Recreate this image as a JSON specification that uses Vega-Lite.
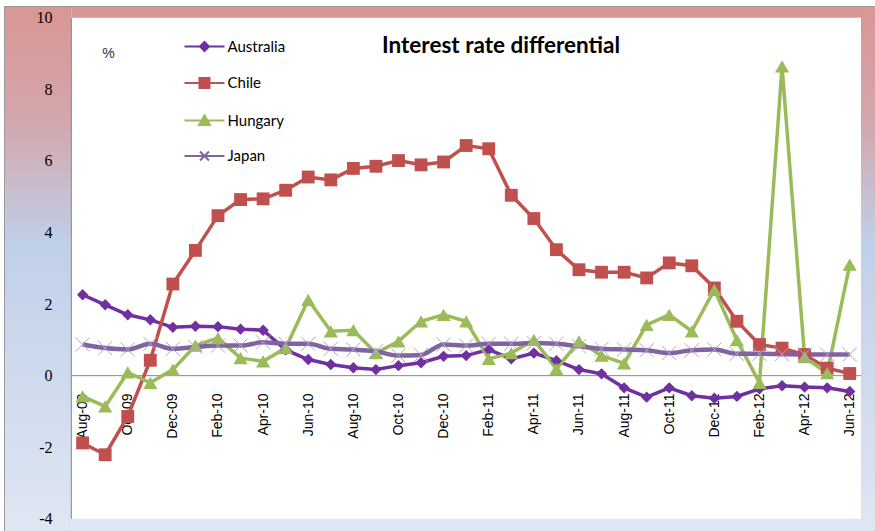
{
  "$schema": "https://vega.github.io/schema/vega-lite/v6.json",
  "width": 875,
  "height": 531,
  "autosize": {"type": "fit", "contains": "padding"},
  "padding": {"left": 5, "top": 7, "right": 0, "bottom": 0},
  "background": "#ffffff",
  "config": {
    "view": {"fill": "#ffffff", "stroke": "#9a9a9a", "strokeWidth": 2}
  },
  "title": {
    "text": "Interest rate differential",
    "anchor": "start",
    "frame": "group",
    "dx": 377,
    "offset": -68,
    "baseline": "alphabetic",
    "font": "Lato",
    "fontSize": 22.5,
    "fontWeight": "bold",
    "color": "#000000"
  },
  "data": {
    "values": [
      {"m": 0, "month": "Aug-09", "series": "Australia", "v": 2.26},
      {"m": 1, "month": "Sep-09", "series": "Australia", "v": 1.98},
      {"m": 2, "month": "Oct-09", "series": "Australia", "v": 1.70},
      {"m": 3, "month": "Nov-09", "series": "Australia", "v": 1.56},
      {"m": 4, "month": "Dec-09", "series": "Australia", "v": 1.35},
      {"m": 5, "month": "Jan-10", "series": "Australia", "v": 1.38},
      {"m": 6, "month": "Feb-10", "series": "Australia", "v": 1.37},
      {"m": 7, "month": "Mar-10", "series": "Australia", "v": 1.30},
      {"m": 8, "month": "Apr-10", "series": "Australia", "v": 1.27},
      {"m": 9, "month": "May-10", "series": "Australia", "v": 0.72},
      {"m": 10, "month": "Jun-10", "series": "Australia", "v": 0.45},
      {"m": 11, "month": "Jul-10", "series": "Australia", "v": 0.31},
      {"m": 12, "month": "Aug-10", "series": "Australia", "v": 0.22},
      {"m": 13, "month": "Sep-10", "series": "Australia", "v": 0.17},
      {"m": 14, "month": "Oct-10", "series": "Australia", "v": 0.28},
      {"m": 15, "month": "Nov-10", "series": "Australia", "v": 0.36},
      {"m": 16, "month": "Dec-10", "series": "Australia", "v": 0.54},
      {"m": 17, "month": "Jan-11", "series": "Australia", "v": 0.56},
      {"m": 18, "month": "Feb-11", "series": "Australia", "v": 0.73},
      {"m": 19, "month": "Mar-11", "series": "Australia", "v": 0.47},
      {"m": 20, "month": "Apr-11", "series": "Australia", "v": 0.63},
      {"m": 21, "month": "May-11", "series": "Australia", "v": 0.42},
      {"m": 22, "month": "Jun-11", "series": "Australia", "v": 0.17},
      {"m": 23, "month": "Jul-11", "series": "Australia", "v": 0.05},
      {"m": 24, "month": "Aug-11", "series": "Australia", "v": -0.34},
      {"m": 25, "month": "Sep-11", "series": "Australia", "v": -0.60},
      {"m": 26, "month": "Oct-11", "series": "Australia", "v": -0.34},
      {"m": 27, "month": "Nov-11", "series": "Australia", "v": -0.56},
      {"m": 28, "month": "Dec-11", "series": "Australia", "v": -0.63},
      {"m": 29, "month": "Jan-12", "series": "Australia", "v": -0.58},
      {"m": 30, "month": "Feb-12", "series": "Australia", "v": -0.37},
      {"m": 31, "month": "Mar-12", "series": "Australia", "v": -0.28},
      {"m": 32, "month": "Apr-12", "series": "Australia", "v": -0.32},
      {"m": 33, "month": "May-12", "series": "Australia", "v": -0.34},
      {"m": 34, "month": "Jun-12", "series": "Australia", "v": -0.44},
      {"m": 0, "month": "Aug-09", "series": "Chile", "v": -1.88},
      {"m": 1, "month": "Sep-09", "series": "Chile", "v": -2.21},
      {"m": 2, "month": "Oct-09", "series": "Chile", "v": -1.14},
      {"m": 3, "month": "Nov-09", "series": "Chile", "v": 0.43},
      {"m": 4, "month": "Dec-09", "series": "Chile", "v": 2.56},
      {"m": 5, "month": "Jan-10", "series": "Chile", "v": 3.50},
      {"m": 6, "month": "Feb-10", "series": "Chile", "v": 4.47},
      {"m": 7, "month": "Mar-10", "series": "Chile", "v": 4.92},
      {"m": 8, "month": "Apr-10", "series": "Chile", "v": 4.94},
      {"m": 9, "month": "May-10", "series": "Chile", "v": 5.18},
      {"m": 10, "month": "Jun-10", "series": "Chile", "v": 5.55},
      {"m": 11, "month": "Jul-10", "series": "Chile", "v": 5.47},
      {"m": 12, "month": "Aug-10", "series": "Chile", "v": 5.79},
      {"m": 13, "month": "Sep-10", "series": "Chile", "v": 5.85},
      {"m": 14, "month": "Oct-10", "series": "Chile", "v": 6.01},
      {"m": 15, "month": "Nov-10", "series": "Chile", "v": 5.89},
      {"m": 16, "month": "Dec-10", "series": "Chile", "v": 5.97},
      {"m": 17, "month": "Jan-11", "series": "Chile", "v": 6.43},
      {"m": 18, "month": "Feb-11", "series": "Chile", "v": 6.34},
      {"m": 19, "month": "Mar-11", "series": "Chile", "v": 5.04},
      {"m": 20, "month": "Apr-11", "series": "Chile", "v": 4.39},
      {"m": 21, "month": "May-11", "series": "Chile", "v": 3.52},
      {"m": 22, "month": "Jun-11", "series": "Chile", "v": 2.96},
      {"m": 23, "month": "Jul-11", "series": "Chile", "v": 2.89},
      {"m": 24, "month": "Aug-11", "series": "Chile", "v": 2.89},
      {"m": 25, "month": "Sep-11", "series": "Chile", "v": 2.73},
      {"m": 26, "month": "Oct-11", "series": "Chile", "v": 3.15},
      {"m": 27, "month": "Nov-11", "series": "Chile", "v": 3.07},
      {"m": 28, "month": "Dec-11", "series": "Chile", "v": 2.45},
      {"m": 29, "month": "Jan-12", "series": "Chile", "v": 1.52},
      {"m": 30, "month": "Feb-12", "series": "Chile", "v": 0.87},
      {"m": 31, "month": "Mar-12", "series": "Chile", "v": 0.77},
      {"m": 32, "month": "Apr-12", "series": "Chile", "v": 0.59},
      {"m": 33, "month": "May-12", "series": "Chile", "v": 0.21},
      {"m": 34, "month": "Jun-12", "series": "Chile", "v": 0.06},
      {"m": 0, "month": "Aug-09", "series": "Hungary", "v": -0.58},
      {"m": 1, "month": "Sep-09", "series": "Hungary", "v": -0.86},
      {"m": 2, "month": "Oct-09", "series": "Hungary", "v": 0.09},
      {"m": 3, "month": "Nov-09", "series": "Hungary", "v": -0.20},
      {"m": 4, "month": "Dec-09", "series": "Hungary", "v": 0.17},
      {"m": 5, "month": "Jan-10", "series": "Hungary", "v": 0.84},
      {"m": 6, "month": "Feb-10", "series": "Hungary", "v": 1.05},
      {"m": 7, "month": "Mar-10", "series": "Hungary", "v": 0.49},
      {"m": 8, "month": "Apr-10", "series": "Hungary", "v": 0.40},
      {"m": 9, "month": "May-10", "series": "Hungary", "v": 0.77},
      {"m": 10, "month": "Jun-10", "series": "Hungary", "v": 2.12},
      {"m": 11, "month": "Jul-10", "series": "Hungary", "v": 1.24},
      {"m": 12, "month": "Aug-10", "series": "Hungary", "v": 1.27},
      {"m": 13, "month": "Sep-10", "series": "Hungary", "v": 0.63},
      {"m": 14, "month": "Oct-10", "series": "Hungary", "v": 0.96},
      {"m": 15, "month": "Nov-10", "series": "Hungary", "v": 1.52},
      {"m": 16, "month": "Dec-10", "series": "Hungary", "v": 1.70},
      {"m": 17, "month": "Jan-11", "series": "Hungary", "v": 1.52},
      {"m": 18, "month": "Feb-11", "series": "Hungary", "v": 0.47},
      {"m": 19, "month": "Mar-11", "series": "Hungary", "v": 0.63},
      {"m": 20, "month": "Apr-11", "series": "Hungary", "v": 1.00},
      {"m": 21, "month": "May-11", "series": "Hungary", "v": 0.19},
      {"m": 22, "month": "Jun-11", "series": "Hungary", "v": 0.96},
      {"m": 23, "month": "Jul-11", "series": "Hungary", "v": 0.56},
      {"m": 24, "month": "Aug-11", "series": "Hungary", "v": 0.34},
      {"m": 25, "month": "Sep-11", "series": "Hungary", "v": 1.42},
      {"m": 26, "month": "Oct-11", "series": "Hungary", "v": 1.70},
      {"m": 27, "month": "Nov-11", "series": "Hungary", "v": 1.24},
      {"m": 28, "month": "Dec-11", "series": "Hungary", "v": 2.40},
      {"m": 29, "month": "Jan-12", "series": "Hungary", "v": 0.99},
      {"m": 30, "month": "Feb-12", "series": "Hungary", "v": -0.20},
      {"m": 31, "month": "Mar-12", "series": "Hungary", "v": 8.64},
      {"m": 32, "month": "Apr-12", "series": "Hungary", "v": 0.52},
      {"m": 33, "month": "May-12", "series": "Hungary", "v": 0.07},
      {"m": 34, "month": "Jun-12", "series": "Hungary", "v": 3.10},
      {"m": 0, "month": "Aug-09", "series": "Japan", "v": 0.87},
      {"m": 1, "month": "Sep-09", "series": "Japan", "v": 0.77},
      {"m": 2, "month": "Oct-09", "series": "Japan", "v": 0.73},
      {"m": 3, "month": "Nov-09", "series": "Japan", "v": 0.89},
      {"m": 4, "month": "Dec-09", "series": "Japan", "v": 0.75},
      {"m": 5, "month": "Jan-10", "series": "Japan", "v": 0.80},
      {"m": 6, "month": "Feb-10", "series": "Japan", "v": 0.84},
      {"m": 7, "month": "Mar-10", "series": "Japan", "v": 0.84},
      {"m": 8, "month": "Apr-10", "series": "Japan", "v": 0.93},
      {"m": 9, "month": "May-10", "series": "Japan", "v": 0.89},
      {"m": 10, "month": "Jun-10", "series": "Japan", "v": 0.89},
      {"m": 11, "month": "Jul-10", "series": "Japan", "v": 0.75},
      {"m": 12, "month": "Aug-10", "series": "Japan", "v": 0.73},
      {"m": 13, "month": "Sep-10", "series": "Japan", "v": 0.68},
      {"m": 14, "month": "Oct-10", "series": "Japan", "v": 0.56},
      {"m": 15, "month": "Nov-10", "series": "Japan", "v": 0.58},
      {"m": 16, "month": "Dec-10", "series": "Japan", "v": 0.87},
      {"m": 17, "month": "Jan-11", "series": "Japan", "v": 0.84},
      {"m": 18, "month": "Feb-11", "series": "Japan", "v": 0.89},
      {"m": 19, "month": "Mar-11", "series": "Japan", "v": 0.89},
      {"m": 20, "month": "Apr-11", "series": "Japan", "v": 0.91},
      {"m": 21, "month": "May-11", "series": "Japan", "v": 0.89},
      {"m": 22, "month": "Jun-11", "series": "Japan", "v": 0.82},
      {"m": 23, "month": "Jul-11", "series": "Japan", "v": 0.75},
      {"m": 24, "month": "Aug-11", "series": "Japan", "v": 0.73},
      {"m": 25, "month": "Sep-11", "series": "Japan", "v": 0.71},
      {"m": 26, "month": "Oct-11", "series": "Japan", "v": 0.63},
      {"m": 27, "month": "Nov-11", "series": "Japan", "v": 0.71},
      {"m": 28, "month": "Dec-11", "series": "Japan", "v": 0.73},
      {"m": 29, "month": "Jan-12", "series": "Japan", "v": 0.61},
      {"m": 30, "month": "Feb-12", "series": "Japan", "v": 0.61},
      {"m": 31, "month": "Mar-12", "series": "Japan", "v": 0.60},
      {"m": 32, "month": "Apr-12", "series": "Japan", "v": 0.59},
      {"m": 33, "month": "May-12", "series": "Japan", "v": 0.59},
      {"m": 34, "month": "Jun-12", "series": "Japan", "v": 0.59}
    ]
  },
  "layer": [
    {
      "data": {"values": [{}]},
      "mark": {
        "type": "rect",
        "fill": {
          "gradient": "linear",
          "x1": 0, "y1": 0, "x2": 0, "y2": 1,
          "stops": [
            {"offset": 0, "color": "#d99694"},
            {"offset": 0.22, "color": "#d2a7ad"},
            {"offset": 0.45, "color": "#c0cfe8"},
            {"offset": 1, "color": "#dfe6f3"}
          ]
        }
      },
      "encoding": {
        "x": {
          "datum": -3.44,
          "type": "quantitative",
          "scale": {"domain": [-3.44, 35.12], "nice": false, "zero": false},
          "axis": {
            "title": null,
            "zindex": 0,
            "values": [0, 2, 4, 6, 8, 10, 12, 14, 16, 18, 20, 22, 24, 26, 28, 30, 32, 34],
            "labelExpr": "['Aug','Sep','Oct','Nov','Dec','Jan','Feb','Mar','Apr','May','Jun','Jul'][datum.value % 12] + '-' + (floor((datum.value + 7) / 12) + 9 < 10 ? '0' : '') + (floor((datum.value + 7) / 12) + 9)",
            "orient": "bottom",
            "offset": -155,
            "domain": false,
            "ticks": false,
            "grid": false,
            "labelAngle": -90,
            "labelAlign": "right",
            "labelBaseline": "middle",
            "labelPadding": 17,
            "labelFont": "Liberation Sans",
            "labelFontSize": 14,
            "labelColor": "#000000",
            "labelOverlap": false,
            "labelFlush": false,
            "labelBound": false
          }
        },
        "x2": {"datum": -0.5},
        "y": {
          "datum": 10.3,
          "type": "quantitative",
          "scale": {"domain": [-4.34, 10.3], "nice": false, "zero": false},
          "axis": {
            "title": "%",
            "zindex": 1,
            "titleAngle": 0,
            "titleX": 56,
            "titleY": 46,
            "titleAlign": "center",
            "titleBaseline": "middle",
            "titleFont": "Liberation Sans",
            "titleFontSize": 14,
            "titleFontWeight": "normal",
            "titleColor": "#333333",
            "values": [-4, -2, 0, 2, 4, 6, 8, 10],
            "labelExpr": "'' + datum.value",
            "offset": -47,
            "domain": false,
            "ticks": false,
            "grid": false,
            "labelPadding": 0,
            "labelFont": "Liberation Serif",
            "labelFontSize": 16,
            "labelColor": "#000000",
            "labelFlush": false,
            "labelBound": false,
            "labelOverlap": false
          }
        },
        "y2": {"datum": -4.34}
      }
    },
    {
      "data": {"values": [{}]},
      "mark": {
        "type": "rect",
        "fill": {
          "gradient": "linear",
          "x1": 0, "y1": 0, "x2": 0, "y2": 1,
          "stops": [
            {"offset": 0, "color": "#d99694"},
            {"offset": 0.22, "color": "#d2a7ad"},
            {"offset": 0.45, "color": "#c0cfe8"},
            {"offset": 1, "color": "#dfe6f3"}
          ]
        }
      },
      "encoding": {
        "x": {"datum": 34.5, "type": "quantitative"},
        "x2": {"datum": 35.12},
        "y": {"datum": 10.3, "type": "quantitative"},
        "y2": {"datum": -4.34}
      }
    },
    {
      "data": {"values": [{}]},
      "mark": {"type": "rect", "fill": "#d99694"},
      "encoding": {
        "x": {"datum": -0.5, "type": "quantitative"},
        "x2": {"datum": 34.5},
        "y": {"datum": 10.3, "type": "quantitative"},
        "y2": {"datum": 10}
      }
    },
    {
      "data": {"values": [{}]},
      "mark": {"type": "rect", "fill": "#dfe6f3"},
      "encoding": {
        "x": {"datum": -0.5, "type": "quantitative"},
        "x2": {"datum": 34.5},
        "y": {"datum": -4, "type": "quantitative"},
        "y2": {"datum": -4.34}
      }
    },
    {
      "data": {"values": [{}]},
      "mark": {"type": "rule", "color": "#868686", "strokeWidth": 1},
      "encoding": {
        "x": {"datum": -0.5, "type": "quantitative"},
        "x2": {"datum": 34.5},
        "y": {"datum": 0, "type": "quantitative"}
      }
    },
    {
      "data": {"values": [{}]},
      "mark": {"type": "rule", "color": "#868686", "strokeWidth": 1},
      "encoding": {
        "x": {"datum": -0.5, "type": "quantitative"},
        "y": {"datum": -4, "type": "quantitative"},
        "y2": {"datum": 10}
      }
    },
    {
      "transform": [{"filter": "datum.series !== 'Japan'"}],
      "mark": {"type": "line", "strokeWidth": 3.5},
      "encoding": {
        "x": {"field": "m", "type": "quantitative"},
        "y": {"field": "v", "type": "quantitative"},
        "color": {
          "field": "series",
          "type": "nominal",
          "scale": {
            "domain": ["Australia", "Chile", "Hungary", "Japan"],
            "range": ["#7030a0", "#c0504d", "#9bbb59", "#8064a2"]
          },
          "legend": {
            "title": null,
            "orient": "none",
            "legendX": 192,
            "legendY": 32,
            "padding": 0,
            "rowPadding": 18.5,
            "symbolSize": 100,
            "labelOffset": 15.5,
            "labelFont": "Lato",
            "labelFontSize": 15,
            "labelColor": "#000000",
            "encode": {
              "symbols": {
                "update": {
                  "shape": {"signal": "datum.value === 'Australia' ? 'M-4,0H4M0,-0.9L0.9,0L0,0.9L-0.9,0Z' : datum.value === 'Chile' ? 'M-4,0H4M-1,-1H1V1H-1Z' : datum.value === 'Hungary' ? 'M-4,0H4M0,-1L1.1,0.9H-1.1Z' : 'M-4,0H4M-0.9,-0.9L0.9,0.9M-0.9,0.9L0.9,-0.9'"},
                  "fill": {"signal": "scale('color', datum.value)"},
                  "stroke": {"signal": "scale('color', datum.value)"},
                  "strokeWidth": {"value": 2},
                  "size": {"value": 100},
                  "opacity": {"value": 1},
                  "fillOpacity": {"value": 1},
                  "strokeOpacity": {"value": 1}
                }
              }
            }
          }
        }
      }
    },
    {
      "transform": [{"filter": "datum.series === 'Japan'"}],
      "mark": {"type": "line", "strokeWidth": 4.5, "interpolate": "monotone"},
      "encoding": {
        "x": {"field": "m", "type": "quantitative"},
        "y": {"field": "v", "type": "quantitative"},
        "color": {"field": "series", "type": "nominal"}
      }
    },
    {
      "transform": [{"filter": "datum.series !== 'Japan'"}],
      "mark": {"type": "point", "filled": true, "opacity": 1},
      "encoding": {
        "x": {"field": "m", "type": "quantitative"},
        "y": {"field": "v", "type": "quantitative"},
        "color": {"field": "series", "type": "nominal"},
        "shape": {
          "field": "series",
          "type": "nominal",
          "scale": {"domain": ["Australia", "Chile", "Hungary"], "range": ["diamond", "square", "triangle-up"]},
          "legend": null
        },
        "size": {
          "field": "series",
          "type": "nominal",
          "scale": {"domain": ["Australia", "Chile", "Hungary"], "range": [130, 200, 190]},
          "legend": null
        }
      }
    },
    {
      "transform": [{"filter": "datum.series === 'Japan'"}],
      "mark": {"type": "point", "shape": "M-1,-1L1,1M-1,1L1,-1", "filled": false, "stroke": "#b3a2c7", "strokeWidth": 1, "size": 200, "opacity": 1},
      "encoding": {
        "x": {"field": "m", "type": "quantitative"},
        "y": {"field": "v", "type": "quantitative"}
      }
    }
  ]
}
